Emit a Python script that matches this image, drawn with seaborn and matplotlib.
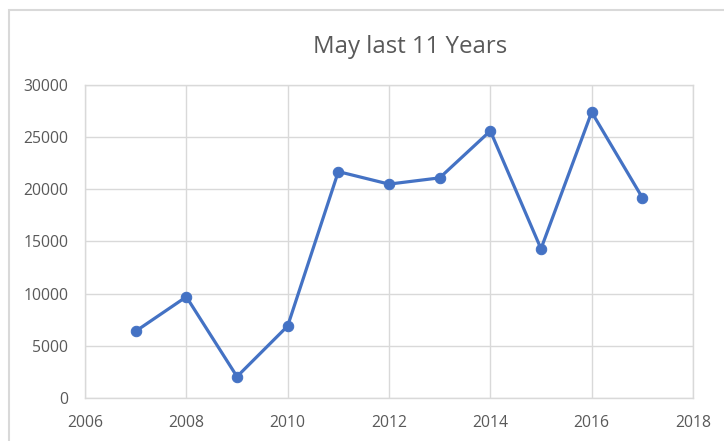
import matplotlib
matplotlib.use("Agg")
import matplotlib.pyplot as plt
from matplotlib.patches import Rectangle
import seaborn as sns
import pandas as pd

# Datos
years = [2007, 2008, 2009, 2010, 2011, 2012, 2013, 2014, 2015, 2016, 2017]
values = [6400, 9700, 2050, 6900, 21700, 20500, 21100, 25600, 14300, 27400, 19200]
x_ticks = [2006, 2008, 2010, 2012, 2014, 2016, 2018]
y_ticks = [0, 5000, 10000, 15000, 20000, 25000, 30000]

df = pd.DataFrame({"year": years, "value": values})

sns.set_theme(style="white")
plt.rcParams["font.family"] = ["Open Sans", "DejaVu Sans"]

fig = plt.figure(figsize=(7.24, 4.41), dpi=100)
ax = fig.add_axes([85 / 724, 1 - 398 / 441, (693 - 85) / 724, (398 - 85) / 441])

grid_c = "#d9d9d9"
text_c = "#595959"

sns.lineplot(data=df, x="year", y="value", ax=ax, color="#4472C4",
             linewidth=2.3, marker="o", markersize=7.5,
             markeredgecolor="#4472C4", zorder=3)

ax.set_xlim(2006, 2018)
ax.set_ylim(0, 30000)
ax.set_xticks(x_ticks)
ax.set_yticks(y_ticks)
ax.grid(True, color=grid_c, linewidth=1)
for s in ax.spines.values():
    s.set_color(grid_c)
    s.set_linewidth(1)
ax.tick_params(axis="both", length=0, colors=text_c, labelsize=11.3, pad=12)
ax.set_xlabel("")
ax.set_ylabel("")

fig.text(410 / 724, 1 - 47 / 441, "May last 11 Years", ha="center", va="center",
         fontsize=17.3, color=text_c)

# marco del area del grafico (recortado como en la captura)
fig.patches.append(Rectangle((9 / 724, -0.1), 1.2, 1 - 10 / 441 + 0.1,
                             transform=fig.transFigure, fill=False,
                             edgecolor=grid_c, linewidth=1.5))

fig.savefig("out.png", dpi=100)
plt.close(fig)
